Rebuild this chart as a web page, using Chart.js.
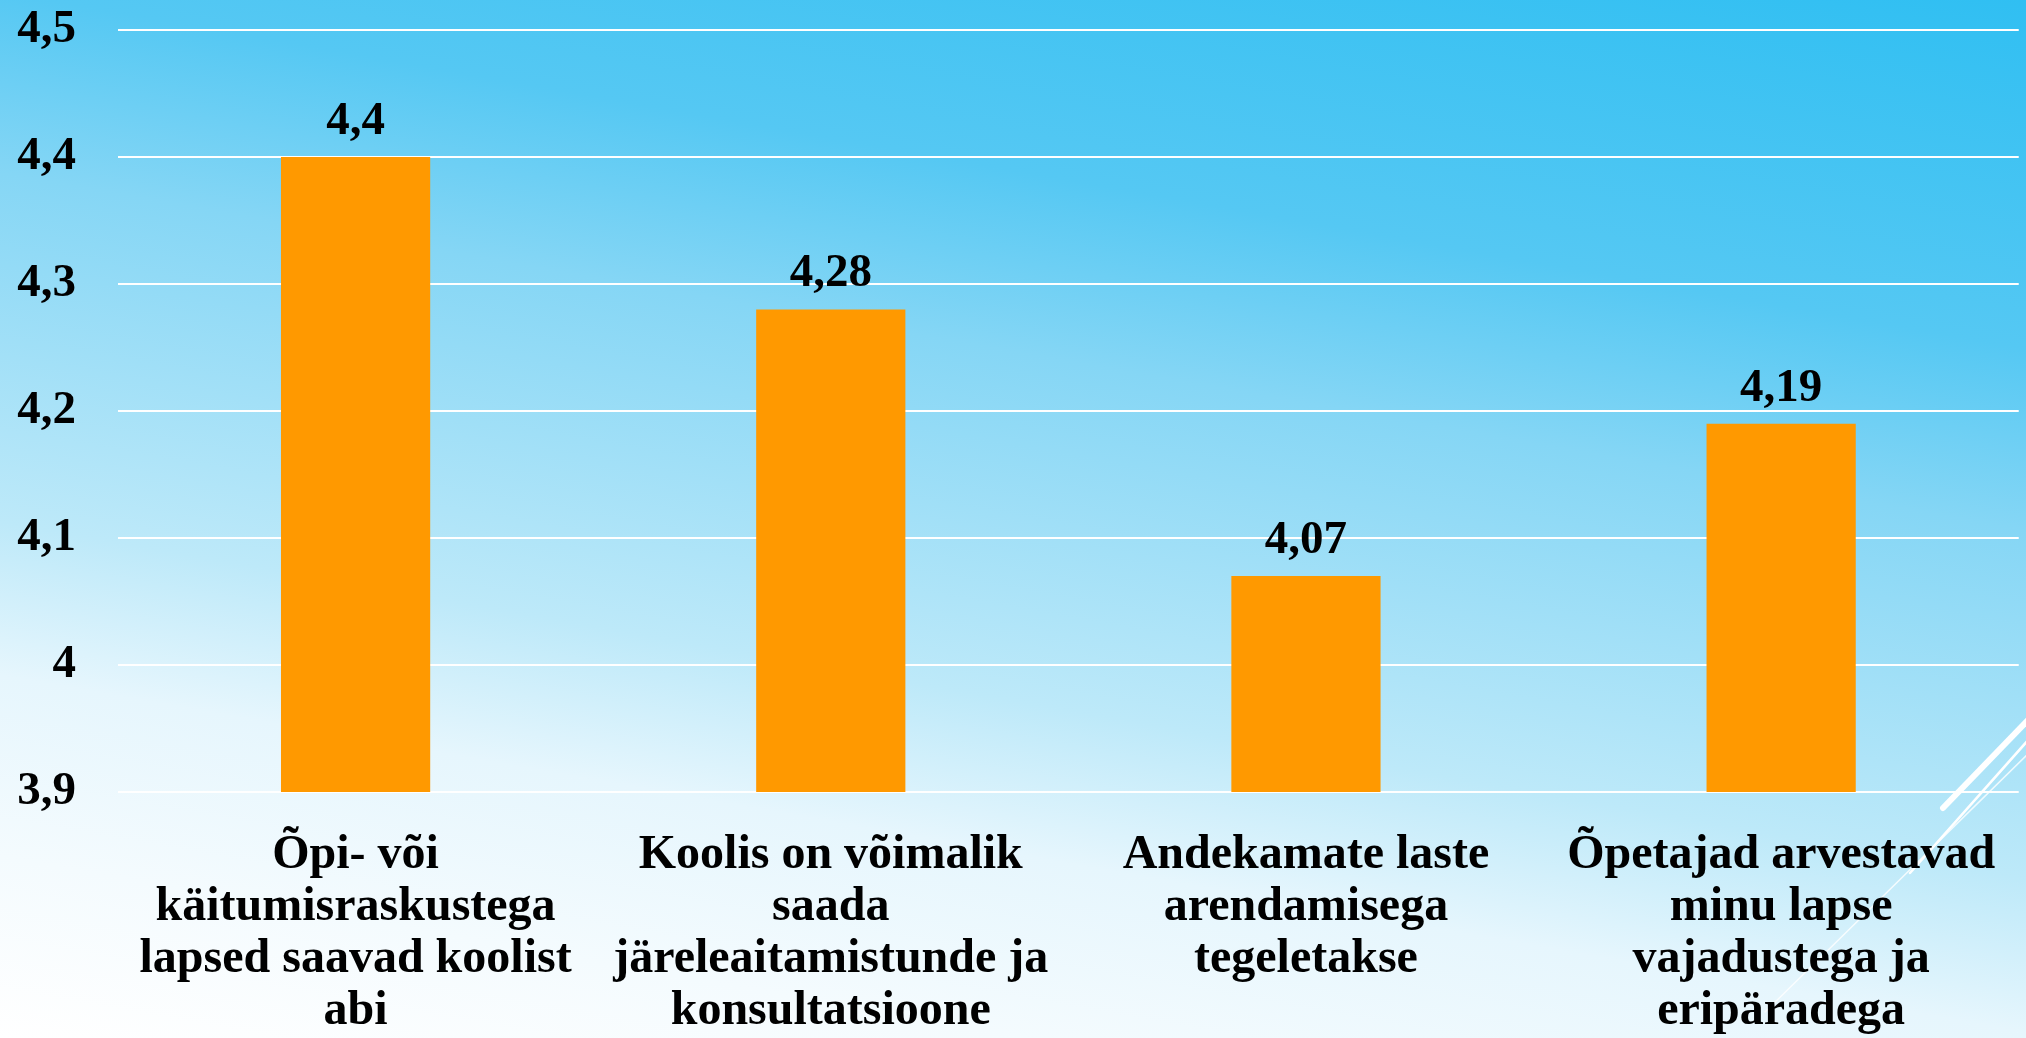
<!DOCTYPE html>
<html>
<head>
<meta charset="utf-8">
<script src="https://cdn.jsdelivr.net/npm/chart.js@4/dist/chart.umd.min.js"></script>
<style>
  html, body { margin: 0; padding: 0; width: 2026px; height: 1038px; overflow: hidden; }
  body { background: linear-gradient(190deg, #30bff2 0%, #55c8f3 25%, #85d6f5 38%, #bde9f9 63%, #e6f6fd 74%, #f4fbfe 87%, #ffffff 100%); }
  #wrap { position: absolute; left: 0; top: 0; width: 2026px; height: 1038px; }
</style>
</head>
<body>
<div id="wrap"><canvas id="c" width="2026" height="1038"></canvas></div>
<script>
const categories = [
  ["Õpi- või", "käitumisraskustega", "lapsed saavad koolist", "abi"],
  ["Koolis on võimalik", "saada", "järeleaitamistunde ja", "konsultatsioone"],
  ["Andekamate laste", "arendamisega", "tegeletakse"],
  ["Õpetajad arvestavad", "minu lapse", "vajadustega ja", "eripäradega"]
];
const values = [4.4, 4.28, 4.07, 4.19];
const yTicks = [3.9, 4.0, 4.1, 4.2, 4.3, 4.4, 4.5];

const fmt = v => String(Math.round(v * 100) / 100).replace('.', ',');
const FONT = "'Liberation Serif', 'Times New Roman', serif";

const decoPlugin = {
  id: 'deco',
  beforeDraw(chart) {
    const ctx = chart.ctx;
    ctx.save();
    ctx.strokeStyle = '#ffffff';
    ctx.lineCap = 'round';
    ctx.lineWidth = 6;
    ctx.beginPath(); ctx.moveTo(1943, 808); ctx.lineTo(2030, 718); ctx.stroke();
    ctx.lineWidth = 2.5;
    ctx.beginPath(); ctx.moveTo(1910, 873); ctx.lineTo(2030, 738); ctx.stroke();
    ctx.globalAlpha = 0.8;
    ctx.lineWidth = 1.5;
    ctx.beginPath(); ctx.moveTo(1765, 1012); ctx.lineTo(2030, 752); ctx.stroke();
    ctx.restore();
  }
};

const valueLabels = {
  id: 'valueLabels',
  afterDatasetsDraw(chart) {
    const ctx = chart.ctx;
    const meta = chart.getDatasetMeta(0);
    ctx.save();
    ctx.font = "bold 47px " + FONT;
    ctx.fillStyle = '#000000';
    ctx.textAlign = 'center';
    ctx.textBaseline = 'alphabetic';
    meta.data.forEach((bar, i) => {
      ctx.fillText(fmt(values[i]), bar.x, bar.y - 23);
    });
    ctx.restore();
  }
};

new Chart(document.getElementById('c'), {
  type: 'bar',
  data: {
    labels: categories,
    datasets: [{
      data: values,
      backgroundColor: '#ff9900',
      borderWidth: 0,
      barPercentage: 0.314,
      categoryPercentage: 1.0
    }]
  },
  options: {
    responsive: false,
    animation: false,
    devicePixelRatio: 1,
    layout: { padding: { top: 0, right: 7, bottom: 0, left: 0 } },
    plugins: { legend: { display: false }, tooltip: { enabled: false } },
    scales: {
      y: {
        min: 3.9, max: 4.5,
        afterFit(scale) { scale.width = 118; },
        afterBuildTicks(scale) { scale.ticks = yTicks.map(v => ({ value: v })); },
        ticks: {
          padding: 0,
          color: '#000000',
          font: { family: FONT, size: 47, weight: 'bold', lineHeight: 1.277 },
          callback: v => fmt(v)
        },
        grid: { color: '#ffffff', lineWidth: 2, drawTicks: true, tickLength: 42, tickColor: 'rgba(0,0,0,0)' },
        border: { display: false }
      },
      x: {
        afterFit(scale) { scale.height = 246; },
        ticks: {
          padding: 30,
          color: '#000000',
          maxRotation: 0, minRotation: 0,
          autoSkip: false,
          font: { family: FONT, size: 48, weight: 'bold', lineHeight: 1.083 }
        },
        grid: { display: false },
        border: { display: false }
      }
    }
  },
  plugins: [decoPlugin, valueLabels]
});
</script>
</body>
</html>
